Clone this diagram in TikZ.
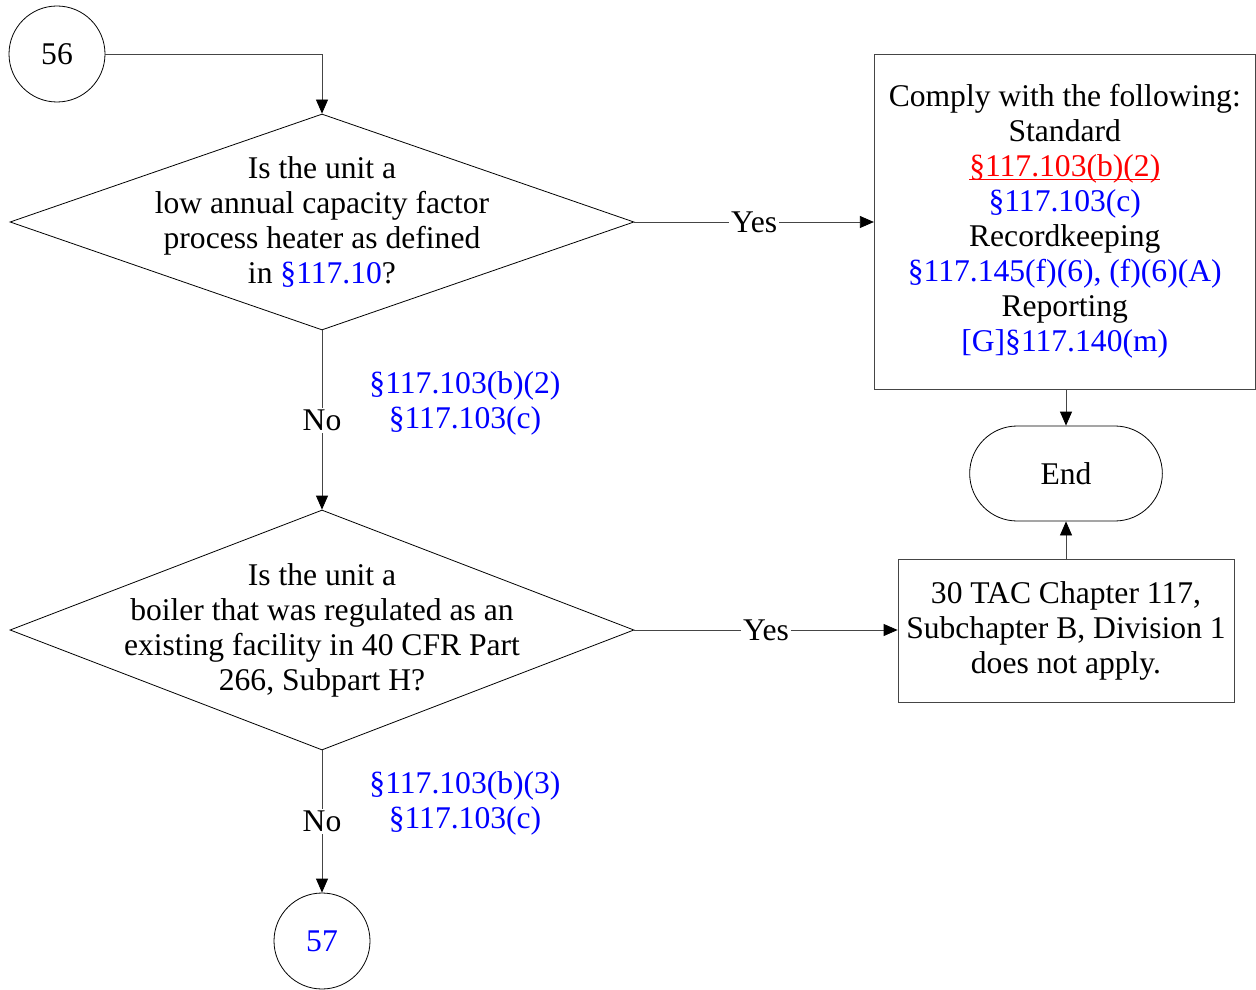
\documentclass[tikz,border=0pt]{standalone}
\usepackage{fontspec}
\setmainfont{Liberation Serif}
\usepackage{xcolor}
\usepackage{tikz}
\usetikzlibrary{arrows.meta,positioning,shapes.geometric,shapes.misc}
\definecolor{cite}{rgb}{0,0,1}
\definecolor{hit}{rgb}{1,0,0}
\definecolor{edge}{rgb}{0.27,0.27,0.27}
\newcommand{\Cite}[1]{\textcolor{cite}{#1}}
\newcommand{\Hit}[1]{\textcolor{hit}{\setbox0\hbox{#1}\rlap{\rule[-1.6pt]{\wd0}{0.5pt}}\box0}}

\begin{document}
\begin{tikzpicture}[x=0.5pt,y=-0.5pt,
  font=\fontsize{15.8}{17.5}\selectfont,
  conn/.style={circle,draw,minimum size=48pt,inner sep=0pt},
  decide/.style={diamond,draw,minimum width=312pt,minimum height=#1,inner sep=0pt},
  box/.style={draw=edge,align=center,inner sep=0pt},
  term/.style={rounded rectangle,draw,minimum width=103pt,minimum height=47.5pt},
  lbl/.style={fill=white,inner sep=1pt},
  ar/.style={draw=edge,-{Triangle[length=7pt,width=6pt,color=black]}}]
\useasboundingbox (0,0) rectangle (1256,989);

\node[conn] (c56) at (57,54) {56};

\node[decide=108pt] (q1) at (322,222) {};
\node[align=center] (q1t) at (322,222)
  {Is the unit a\\low annual capacity factor\\process heater as defined\\in \Cite{§117.10}?};

\node[box,minimum width=190.5pt,minimum height=167.5pt] (comply) at (1064.75,221.5)
  {Comply with the following:\\Standard\\\Hit{§117.103(b)(2)}\\\Cite{§117.103(c)}\\
   Recordkeeping\\\Cite{§117.145(f)(6), (f)(6)(A)}\\Reporting\\\Cite{[G]§117.140(m)}};

\node[term] (stop) at (1066,473.5) {End};

\node[decide=120pt] (q2) at (322,630) {};
\node[align=center] (q2t) at (322,630)
  {Is the unit a\\boiler that was regulated as an\\existing facility in 40 CFR Part\\266, Subpart H?};

\node[box,minimum width=168pt,minimum height=71.5pt] (tac) at (1066,630.5)
  {30 TAC Chapter 117,\\Subchapter B, Division 1\\does not apply.};

\node[conn,text=cite] (c57) at (322,941) {57};

\node[align=center,text=cite] (n1) at (465,403) {§117.103(b)(2)\\§117.103(c)};
\node[align=center,text=cite] (n2) at (465,803) {§117.103(b)(3)\\§117.103(c)};

\draw[ar] (c56.east) -| (q1.north);
\draw[ar] (q1.east) -- node[lbl] {Yes} (q1.east -| comply.west);
\draw[ar] (q1.south) -- node[lbl] {No} (q2.north);
\draw[ar] (q2.east) -- node[lbl] {Yes} (q2.east -| tac.west);
\draw[ar] (stop.north |- comply.south) -- (stop.north);
\draw[ar] (tac.north) -- (stop.south);
\draw[ar] (q2.south) -- node[lbl] {No} (c57.north);
\end{tikzpicture}
\end{document}
